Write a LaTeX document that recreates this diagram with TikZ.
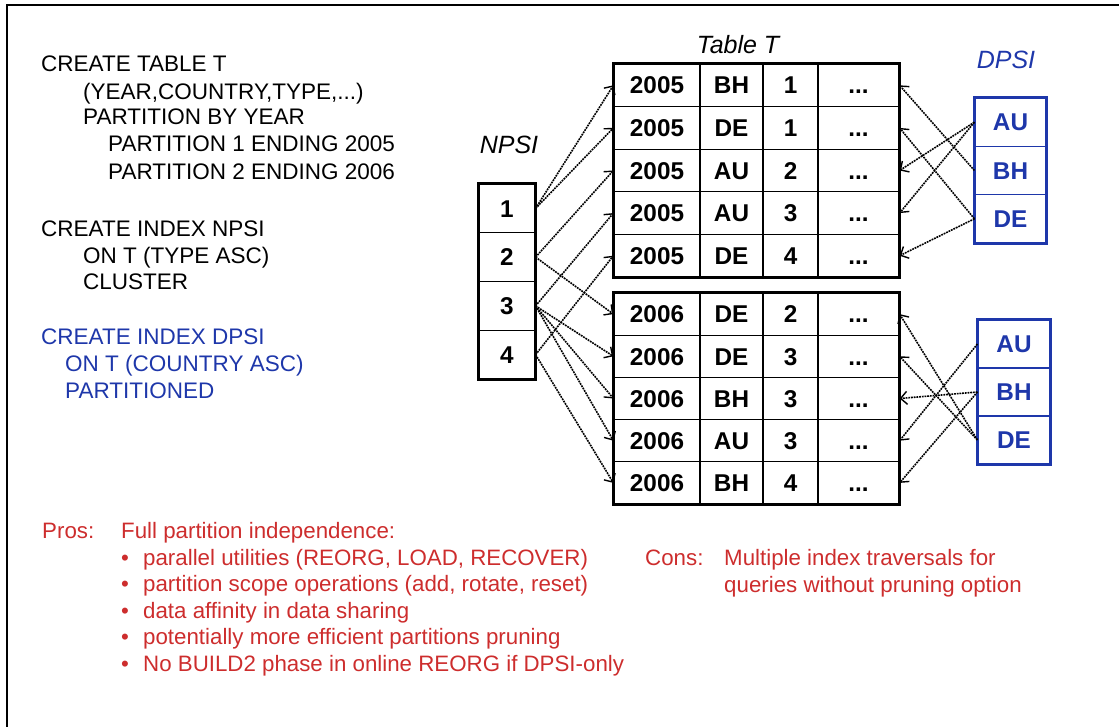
\documentclass[tikz,border=0pt]{standalone}
\usepackage{fontspec}
\setmainfont{Liberation Sans}
\usetikzlibrary{arrows.meta}
\definecolor{ibmblue}{RGB}{30,55,170}
\definecolor{prored}{RGB}{205,45,45}
\begin{document}
\begin{tikzpicture}[x=1pt,y=-1pt,
  txt/.style={anchor=base west, inner sep=0pt, font=\fontsize{22.5}{26}\selectfont},
  rtxt/.style={txt, text=prored, font=\fontsize{22.3}{26}\selectfont},
  lbl/.style={inner sep=0pt, font=\itshape\fontsize{25}{28}\selectfont},
  cell/.style={draw, line width=1.2pt, minimum height=42.6pt, inner sep=0pt,
    text height=17.4pt, text depth=0pt,
    font=\bfseries\fontsize{24.3}{27}\selectfont},
  lcell/.style={cell, minimum height=42.2pt},
  ncell/.style={cell, minimum width=56pt, minimum height=48.75pt},
  dcell/.style={cell, draw=ibmblue, text=ibmblue, minimum width=71pt, minimum height=48.3pt},
  dcellb/.style={dcell, minimum width=72pt, minimum height=48pt},
  arr/.style={line width=1.6pt, dash pattern=on 1.8pt off 0.9pt,
    -{Straight Barb[length=6.5pt,width=13pt,line width=1.4pt]}}
]
\useasboundingbox (0,0) rectangle (1119,727);
% frame
\draw[line width=1.5pt] (7,727) -- (7,5) -- (1119,5);

% SQL text
\node[txt] (s1) at (41,72) {CREATE TABLE T};
\node[txt] (s2) at (83,100) {(YEAR,COUNTRY,TYPE,...)};
\node[txt] (s3) at (83,125) {PARTITION BY YEAR};
\node[txt] (s4) at (108,152) {PARTITION 1 ENDING 2005};
\node[txt] (s5) at (108,180) {PARTITION 2 ENDING 2006};
\node[txt] (s6) at (41,237) {CREATE INDEX NPSI};
\node[txt] (s7) at (83,264) {ON T (TYPE ASC)};
\node[txt] (s8) at (83,290) {CLUSTER};
\node[txt, text=ibmblue] (s9) at (41,344) {CREATE INDEX DPSI};
\node[txt, text=ibmblue] (s10) at (65,371) {ON T (COUNTRY ASC)};
\node[txt, text=ibmblue] (s11) at (65,398) {PARTITIONED};

% labels
\node[lbl] (tT) at (738,45) {Table T};
\node[lbl] (lN) at (509,145) {NPSI};
\node[lbl, text=ibmblue] (lD) at (1006,60) {DPSI};

% upper table (partition 2005)
\foreach \ya/\yb/\yc [count=\i] in {2005/BH/1,2005/DE/1,2005/AU/2,2005/AU/3,2005/DE/4}{
  \node[cell, minimum width=86pt] (ua\i) at (657,{85.3+(\i-1)*42.6}) {\ya};
  \node[cell, minimum width=63pt] (ub\i) at (731.5,{85.3+(\i-1)*42.6}) {\yb};
  \node[cell, minimum width=55pt] (uc\i) at (790.5,{85.3+(\i-1)*42.6}) {\yc};
  \node[cell, minimum width=81pt] (ud\i) at (858.5,{85.3+(\i-1)*42.6}) {...};
}
\draw[line width=2pt] (ua1.north west) rectangle (ud5.south east);

% lower table (partition 2006)
\foreach \ya/\yb/\yc [count=\i] in {2006/DE/2,2006/DE/3,2006/BH/3,2006/AU/3,2006/BH/4}{
  \node[lcell, minimum width=86pt] (la\i) at (657,{314.1+(\i-1)*42.2}) {\ya};
  \node[lcell, minimum width=63pt] (lb\i) at (731.5,{314.1+(\i-1)*42.2}) {\yb};
  \node[lcell, minimum width=55pt] (lc\i) at (790.5,{314.1+(\i-1)*42.2}) {\yc};
  \node[lcell, minimum width=81pt] (ld\i) at (858.5,{314.1+(\i-1)*42.2}) {...};
}
\draw[line width=2pt] (la1.north west) rectangle (ld5.south east);

% NPSI
\foreach \n [count=\i] in {1,2,3,4}{
  \node[ncell] (n\i) at (507,{208.4+(\i-1)*48.75}) {\n};
}
\draw[line width=2pt] (n1.north west) rectangle (n4.south east);

% DPSI upper
\node[dcell] (dA1) at (1010.5,122.2) {AU};
\node[dcell] (dB1) at (1010.5,170.5) {BH};
\node[dcell] (dD1) at (1010.5,218.8) {DE};
\draw[line width=2pt, ibmblue] (dA1.north west) rectangle (dD1.south east);
% DPSI lower
\node[dcellb] (dA2) at (1014,344) {AU};
\node[dcellb] (dB2) at (1014,392) {BH};
\node[dcellb] (dD2) at (1014,440) {DE};
\draw[line width=2pt, ibmblue] (dA2.north west) rectangle (dD2.south east);

% NPSI arrows
\draw[arr] (n1.east) -- (ua1.west);
\draw[arr] (n1.east) -- (ua2.west);
\draw[arr] (n2.east) -- (ua3.west);
\draw[arr] (n2.east) -- (la1.west);
\draw[arr] (n3.east) -- (ua4.west);
\draw[arr] (n3.east) -- (la2.west);
\draw[arr] (n3.east) -- (la3.west);
\draw[arr] (n3.east) -- (la4.west);
\draw[arr] (n4.east) -- (ua5.west);
\draw[arr] (n4.east) -- (la5.west);

% DPSI arrows
\draw[arr] (dA1.west) -- (ud3.east);
\draw[arr] (dA1.west) -- (ud4.east);
\draw[arr] (dB1.west) -- (ud1.east);
\draw[arr] (dD1.west) -- (ud2.east);
\draw[arr] (dD1.west) -- (ud5.east);
\draw[arr] (dA2.west) -- (ld4.east);
\draw[arr] (dB2.west) -- (ld3.east);
\draw[arr] (dB2.west) -- (ld5.east);
\draw[arr] (dD2.west) -- (ld1.east);
\draw[arr] (dD2.west) -- (ld2.east);

% Pros / Cons
\node[rtxt] (pros) at (42,538) {Pros:};
\node[rtxt] (p0) at (121,538) {Full partition independence:};
\foreach \i in {1,...,5}{
  \node[rtxt] (b\i) at (121,{565+(\i-1)*26.6}) {\textbullet};
}
\node[rtxt] (p1) at (143,565) {parallel utilities (REORG, LOAD, RECOVER)};
\node[rtxt] (p2) at (143,591.6) {partition scope operations (add, rotate, reset)};
\node[rtxt] (p3) at (143,618.2) {data affinity in data sharing};
\node[rtxt] (p4) at (143,644.8) {potentially more efficient partitions pruning};
\node[rtxt] (p5) at (143,671.4) {No BUILD2 phase in online REORG if DPSI-only};
\node[rtxt] (cons) at (645,565) {Cons:};
\node[rtxt] (c1) at (724,565) {Multiple index traversals for};
\node[rtxt] (c2) at (724,592) {queries without pruning option};
\end{tikzpicture}
\end{document}
